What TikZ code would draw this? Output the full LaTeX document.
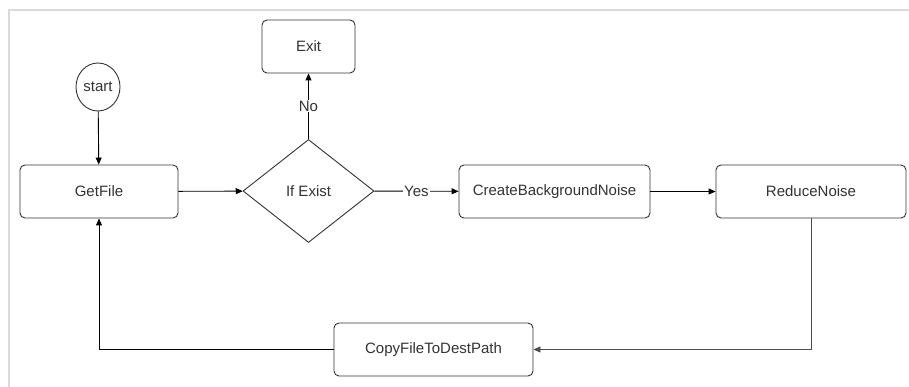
\documentclass[tikz,border=0pt]{standalone}
\usepackage{fontspec}
\setmainfont{Liberation Sans}
\usetikzlibrary{shapes.geometric,arrows.meta}
\definecolor{txt}{HTML}{333333}
\definecolor{frame}{HTML}{DADADA}
\tikzset{
  fnt/.style={font=\fontsize{15}{17}\selectfont},
  box/.style={draw=black!80, line width=0.9pt, rounded corners=5pt, minimum height=53pt, text=txt, fnt, inner sep=0pt},
  dec/.style={draw=black!80, line width=0.9pt, diamond, aspect=1.27, minimum width=131pt, minimum height=103pt, inner sep=0pt, text=txt, fnt},
  term/.style={draw=black!80, line width=0.9pt, ellipse, minimum width=44pt, minimum height=48pt, inner sep=0pt, text=txt, fnt},
  conn/.style={draw=black, line width=0.9pt, -{Triangle[length=7pt,width=6pt]}},
  lbl/.style={fill=white, inner sep=1pt, text=txt, fnt}
}
\begin{document}
\begin{tikzpicture}[x=1pt,y=-1pt]
\useasboundingbox (0,0) rectangle (909,387);
\fill[white] (0,0) rectangle (909,387);
\draw[frame, line width=2pt] (9,387) -- (9,10) -- (909,10);

\node[term] (start) at (98,87) {start};
\node[box, minimum width=158pt] (getfile) at (99,191.5) {GetFile};
\node[dec] (ifexist) at (308.5,191) {If Exist};
\node[box, minimum width=93pt] (exit) at (308.5,46.5) {Exit};
\node[box, minimum width=191pt] (cbn) at (554.5,191.5) {CreateBackgroundNoise};
\node[box, minimum width=190pt] (reduce) at (811,191.5) {ReduceNoise};
\node[box, minimum width=199pt] (copy) at (433.5,349.5) {CopyFileToDestPath};
\coordinate (c1) at (811,349.5);
\coordinate (c2) at (99,349.5);

\draw[conn] (start) -- (getfile);
\draw[conn] (getfile) -- (ifexist);
\draw[conn] (ifexist) -- node[lbl, pos=0.5] {No} (exit);
\draw[conn] (ifexist) -- node[lbl] {Yes} (cbn);
\draw[conn] (cbn) -- (reduce);
\draw[conn, draw=black!70] (reduce) -- (c1) -- (copy);
\draw[conn] (copy) -- (c2) -- (getfile);
\end{tikzpicture}
\end{document}
